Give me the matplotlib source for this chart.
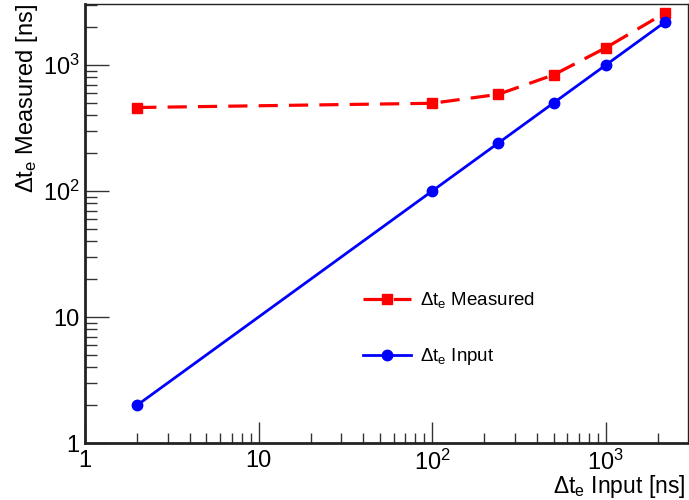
import matplotlib
matplotlib.use("Agg")
import matplotlib.pyplot as plt
from matplotlib.ticker import FixedLocator, FixedFormatter, LogLocator, NullFormatter

plt.rcParams['font.family'] = ['Liberation Sans', 'DejaVu Sans']
plt.rcParams['mathtext.fontset'] = 'custom'
plt.rcParams['mathtext.rm'] = 'Liberation Sans'
plt.rcParams['mathtext.it'] = 'Liberation Sans'
plt.rcParams['mathtext.bf'] = 'Liberation Sans:bold'

# Data
x_input = [2, 100, 240, 500, 1000, 2200]
y_measured = [460, 497, 585, 835, 1370, 2600]
y_input = [2, 100, 240, 500, 1000, 2200]

xticks = [1, 10, 100, 1000]
xticklabels = ["1", "10", r"$10^{2}$", r"$10^{3}$"]
yticks = [1, 10, 100, 1000]
yticklabels = ["1", "10", r"$10^{2}$", r"$10^{3}$"]

label_meas = r"$\Delta$t$_{\mathregular{e}}$ Measured"
label_inp = r"$\Delta$t$_{\mathregular{e}}$ Input"

fig = plt.figure(figsize=(6.89, 5.0), dpi=100)
W, H = 689, 500
L, R, T, B = 85, 688, 4, 443
ax = fig.add_axes([L / W, 1 - B / H, (R - L) / W, (B - T) / H])

ax.plot(x_input, y_measured, color='#ff0000', lw=2.3, ls=(0, (6, 3.5)),
        marker='s', ms=7.5, mec='#ff0000', mfc='#ff0000', label=label_meas)
ax.plot(x_input, y_input, color='#0000ff', lw=2.0, ls='-',
        marker='o', ms=7.5, mec='#0000ff', mfc='#0000ff', label=label_inp)

ax.set_xscale('log')
ax.set_yscale('log')
ax.set_xlim(1, 2975)
ax.set_ylim(1, 3050)

ax.xaxis.set_major_locator(FixedLocator(xticks))
ax.xaxis.set_major_formatter(FixedFormatter(xticklabels))
ax.yaxis.set_major_locator(FixedLocator(yticks))
ax.yaxis.set_major_formatter(FixedFormatter(yticklabels))
ax.xaxis.set_minor_locator(LogLocator(base=10, subs=range(2, 10), numticks=20))
ax.yaxis.set_minor_locator(LogLocator(base=10, subs=range(2, 10), numticks=20))
ax.xaxis.set_minor_formatter(NullFormatter())
ax.yaxis.set_minor_formatter(NullFormatter())

ax.tick_params(which='both', direction='in', top=False, right=False, color='#333333')
ax.tick_params(which='major', length=15, width=1.0, labelsize=17, pad=5)
ax.tick_params(which='minor', length=7.5, width=1.0)
ax.tick_params(axis='y', which='major', length=17, pad=4)
ax.tick_params(axis='y', which='minor', length=8.5)

for s in ['left', 'bottom']:
    ax.spines[s].set_linewidth(2.0)
    ax.spines[s].set_color('#222222')
for s in ['top', 'right']:
    ax.spines[s].set_linewidth(1.0)
    ax.spines[s].set_color('#222222')

ax.set_xlabel(r"$\Delta$t$_{\mathregular{e}}$ Input [ns]", fontsize=16.5, loc='right')
ax.xaxis.set_label_coords(1.0 - 3 / (R - L), -(487 - B) / (B - T))
ax.xaxis.label.set_va('center')
ax.set_ylabel(r"$\Delta$t$_{\mathregular{e}}$ Measured [ns]", fontsize=17, loc='top')
ax.yaxis.set_label_coords(-(L - 27) / (R - L), 1.0)
ax.yaxis.label.set_va('center')

leg = ax.legend(loc='upper left', bbox_to_anchor=((355 - L) / (R - L), 1 - (283 - T) / (B - T)),
                frameon=False, fontsize=13.5, handlelength=2.6, labelspacing=1.9,
                handletextpad=0.45, borderaxespad=0)

fig.savefig("out.png", dpi=100)
